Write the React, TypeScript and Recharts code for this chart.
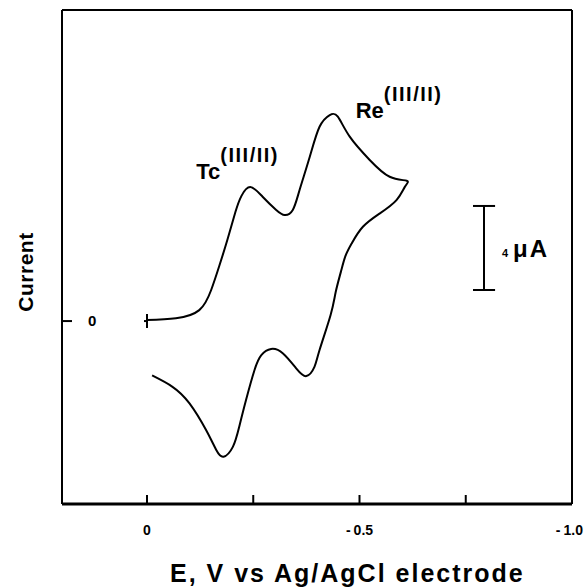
import { Line, LineChart, ReferenceDot, ReferenceLine, XAxis, YAxis } from "recharts";

// cyclic voltammogram, potential in V vs Ag/AgCl, current in µA (cathodic up)
const potentials = [
  0.0, -0.068, -0.123, -0.151, -0.17, -0.189, -0.208, -0.222, -0.243, -0.272,
  -0.304, -0.324, -0.343, -0.359, -0.383, -0.406, -0.43, -0.449, -0.477, -0.524,
  -0.571, -0.611, -0.607, -0.587, -0.548, -0.508, -0.482, -0.467, -0.456, -0.444,
  -0.432, -0.406, -0.394, -0.375, -0.351, -0.32, -0.292, -0.269, -0.253, -0.233,
  -0.217, -0.202, -0.18, -0.163, -0.139, -0.1, -0.06, -0.012,
];
const currents = [
  0.05, 0.13, 0.52, 1.48, 2.62, 3.86, 5.19, 5.95, 6.38, 5.92,
  5.29, 5.05, 5.29, 6.24, 7.82, 9.25, 9.81, 9.73, 8.78, 7.67,
  6.87, 6.68, 6.4, 5.76, 5.13, 4.49, 3.71, 3.1, 2.33, 1.38,
  0.29, -1.38, -2.18, -2.62, -2.25, -1.54, -1.33, -1.62, -2.33, -3.76,
  -5.03, -5.99, -6.46, -6.14, -5.19, -3.92, -3.13, -2.59,
];

const xTicks = [0, -0.25, -0.5, -0.75, -1.0];
const xTickLabels = ["0", "", "-0.5", "", "-1.0"];
const yTicks = [0];
const yTickLabels = ["0"];

const xDomain = [-1.0, 0.2];
const yDomain = [-8.71, 14.81];

// annotations: [potential, current]
const tcLabelAt = [-0.116, 6.76];
const reLabelAt = [-0.491, 9.67];
const scaleBarE = -0.793;
const scaleBarI = [1.48, 5.48]; // 4 µA
const scaleCap = 0.026;
const scaleLabelAt = [-0.835, 3.05];

const data = potentials.map((e, i) => ({ e, i: currents[i] }));

const FONT = '"Liberation Sans", Arial, Helvetica, sans-serif';
const CHART_W = 585;

function XTick(props: any) {
  const { x, y, payload } = props;
  const label = xTickLabels[xTicks.indexOf(payload.value)];
  const neg = label.startsWith("-");
  // keep the last label inside the picture
  const atEdge = x > CHART_W - 30;
  return (
    <g>
      <line x1={x} x2={x} y1={y} y2={y - 9} stroke="#000" strokeWidth={2} />
      <text
        x={atEdge ? CHART_W - 2 : x}
        y={y + 31}
        textAnchor={atEdge ? "end" : "middle"}
        fontFamily={FONT}
        fontWeight={700}
        fontSize={14}
        fill="#000"
      >
        {neg ? (
          <>
            <tspan>-</tspan>
            <tspan dx={3}>{label.slice(1)}</tspan>
          </>
        ) : (
          label
        )}
      </text>
    </g>
  );
}

function YTick(props: any) {
  const { x, y, payload } = props;
  return (
    <text
      x={x}
      y={y}
      dy={5}
      textAnchor="start"
      fontFamily={FONT}
      fontWeight={700}
      fontSize={15}
      fill="#000"
    >
      {yTickLabels[yTicks.indexOf(payload.value)]}
    </text>
  );
}

function XTitle(props: any) {
  const { viewBox } = props;
  return (
    <text
      x={viewBox.x + 108}
      y={viewBox.y + 78}
      fontFamily={FONT}
      fontWeight={700}
      fontSize={25}
      letterSpacing={2}
      fill="#000"
    >
      E, V vs Ag/AgCl electrode
    </text>
  );
}

function YTitle(props: any) {
  const { viewBox } = props;
  const x = viewBox.x - 29;
  const y = viewBox.y + 262;
  return (
    <text
      x={x}
      y={y}
      transform={`rotate(-90, ${x}, ${y})`}
      textAnchor="middle"
      fontFamily={FONT}
      fontWeight={700}
      fontSize={21}
      letterSpacing={0.5}
      fill="#000"
    >
      Current
    </text>
  );
}

function SpeciesLabel(name: string) {
  return (props: any) => (
    <text x={props.cx} y={props.cy} fontFamily={FONT} fontWeight={700} fill="#000">
      <tspan fontSize={22}>{name}</tspan>
      <tspan fontSize={20} dy={-17} letterSpacing={1.5}>
        (III/II)
      </tspan>
    </text>
  );
}

function ScaleLabel(props: any) {
  return (
    <text x={props.cx} y={props.cy} fontFamily={FONT} fontWeight={700} fill="#000">
      <tspan fontSize={11}>4</tspan>
      <tspan fontSize={24} dx={5} letterSpacing={2}>
        μA
      </tspan>
    </text>
  );
}

function StartMark(props: any) {
  return (
    <g stroke="#000" strokeWidth={2}>
      <line x1={props.cx} x2={props.cx} y1={props.cy - 7} y2={props.cy + 7} />
      <line x1={props.cx - 3} x2={props.cx} y1={props.cy} y2={props.cy} />
    </g>
  );
}

export default function App() {
  return (
    <div style={{ position: "absolute", left: 0, top: 0, background: "#fff" }}>
      <LineChart
        width={CHART_W}
        height={588}
        data={data}
        margin={{ top: 9, right: 12, left: 62, bottom: 0 }}
      >
        <XAxis
          dataKey="e"
          type="number"
          domain={xDomain}
          reversed
          allowDataOverflow
          ticks={xTicks}
          interval={0}
          height={84}
          tickSize={0}
          tickMargin={0}
          tickLine={false}
          tick={<XTick />}
          axisLine={{ stroke: "#000", strokeWidth: 3 }}
          label={<XTitle />}
        />
        <XAxis
          xAxisId="top"
          orientation="top"
          type="number"
          domain={xDomain}
          reversed
          height={1}
          tick={false}
          tickLine={false}
          axisLine={{ stroke: "#000", strokeWidth: 2 }}
        />
        <YAxis
          type="number"
          domain={yDomain}
          allowDataOverflow
          ticks={yTicks}
          width={1}
          mirror
          tickSize={10}
          tickMargin={16}
          tickLine={{ stroke: "#000", strokeWidth: 2 }}
          axisLine={{ stroke: "#000", strokeWidth: 2 }}
          tick={<YTick />}
          label={<YTitle />}
        />
        <YAxis
          yAxisId="right"
          orientation="right"
          type="number"
          domain={yDomain}
          width={1}
          tick={false}
          tickLine={false}
          axisLine={{ stroke: "#000", strokeWidth: 2 }}
        />
        <Line
          dataKey="i"
          type="natural"
          stroke="#000"
          strokeWidth={2}
          dot={false}
          isAnimationActive={false}
        />
        <ReferenceDot x={0} y={0} r={0} shape={StartMark} />
        <ReferenceLine
          segment={[
            { x: scaleBarE, y: scaleBarI[0] },
            { x: scaleBarE, y: scaleBarI[1] },
          ]}
          stroke="#000"
          strokeWidth={2}
        />
        <ReferenceLine
          segment={[
            { x: scaleBarE - scaleCap, y: scaleBarI[0] },
            { x: scaleBarE + scaleCap, y: scaleBarI[0] },
          ]}
          stroke="#000"
          strokeWidth={2}
        />
        <ReferenceLine
          segment={[
            { x: scaleBarE - scaleCap, y: scaleBarI[1] },
            { x: scaleBarE + scaleCap, y: scaleBarI[1] },
          ]}
          stroke="#000"
          strokeWidth={2}
        />
        <ReferenceDot x={tcLabelAt[0]} y={tcLabelAt[1]} r={0} shape={SpeciesLabel("Tc")} />
        <ReferenceDot x={reLabelAt[0]} y={reLabelAt[1]} r={0} shape={SpeciesLabel("Re")} />
        <ReferenceDot x={scaleLabelAt[0]} y={scaleLabelAt[1]} r={0} shape={ScaleLabel} />
      </LineChart>
    </div>
  );
}
